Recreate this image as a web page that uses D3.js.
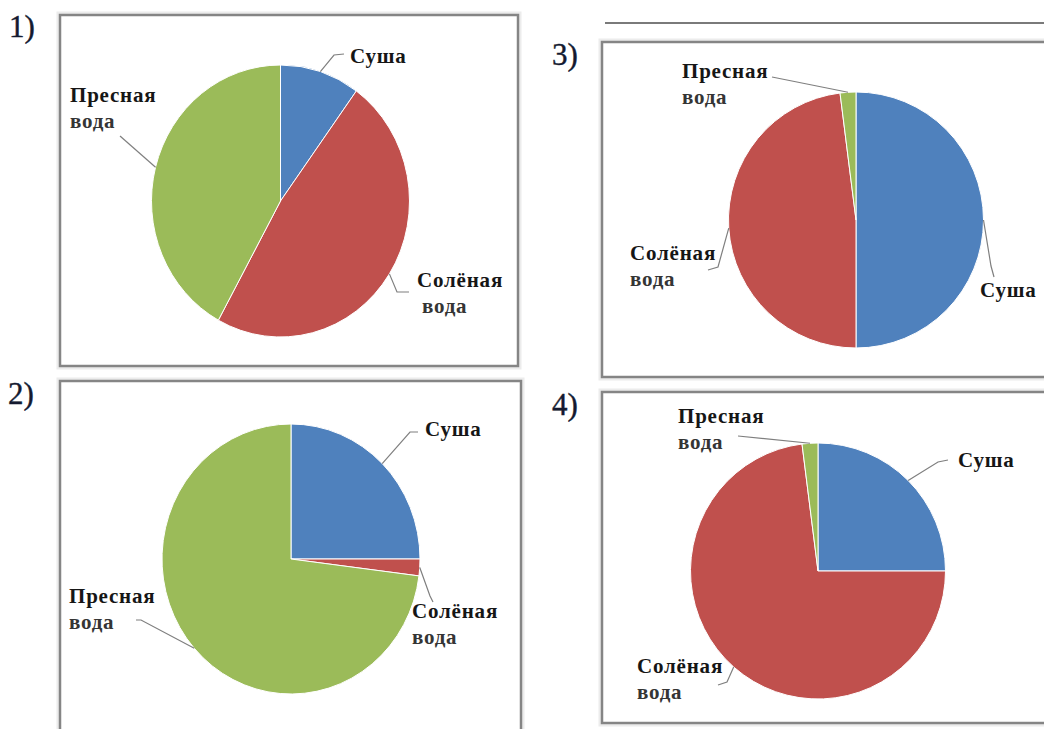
<!DOCTYPE html>
<html lang="ru">
<head>
  <meta charset="UTF-8" />
  <title>Суша и вода</title>
  <style>
    body 
      {
      margin: 0;
      background-color: #ffffff;
      }
    .num 
      {
      font-family: "Liberation Serif", "DejaVu Serif", serif;
      font-size: 31px;
      fill: #141a30;
      stroke: #141a30;
      stroke-width: 0.4;
      }
    .lbl 
      {
      font-family: "Liberation Serif", "DejaVu Serif", serif;
      font-weight: bold;
      font-size: 21px;
      letter-spacing: 0.8px;
      fill: #161616;
      }
    .lbl tspan.second 
      {
      fill: #353535;
      }
  </style>
</head>
<body>
<div id="chart"></div>

<script src="https://cdn.jsdelivr.net/npm/d3@7/dist/d3.min.js"></script>
<script>
// categories in Excel order (clockwise from 12 o'clock)
const categories = ["Суша", "Солёная вода", "Пресная вода"];
const chartNames = ["1)", "2)", "3)", "4)"];

// shares, %, per chart
const chart1 = [10, 48, 42];
const chart2 = [25, 2, 73];
const chart3 = [50, 48, 2];
const chart4 = [25, 73, 2];

const colors = ["#4f81bd", "#c0504d", "#9bbb59"];

// layout for each panel: frame, pie centre / radii, number, label anchors, leader elbows
const layout = [
  {
    frame: [60, 15, 518, 366], cx: 280.5, cy: 201, rx: 129, ry: 136, num: [9, 37],
    labels: [
      { x: 350, y: 63, lead: [[344, 54], [334, 55]] },
      { x: 417, y: 287, x2: 422, lead: [[409, 292], [397, 292]] },
      { x: 70, y: 102, lead: [[120, 136]] }
    ]
  },
  {
    frame: [60, 381, 521, 745], cx: 291, cy: 559, rx: 129, ry: 135, num: [8, 404],
    labels: [
      { x: 425, y: 436, lead: [[418, 432], [410, 432]] },
      { x: 412, y: 618, lead: [[433, 602], [430, 596]] },
      { x: 69, y: 603, lead: [[136, 620], [141, 620]] }
    ]
  },
  {
    frame: [602, 42, 1060, 377], cx: 856, cy: 220, rx: 127.5, ry: 128, num: [552, 65],
    labels: [
      { x: 980, y: 297, lead: [[994, 277], [991, 266]] },
      { x: 630, y: 260, lead: [[708, 270], [718, 267]] },
      { x: 682, y: 78, lead: [[772, 77]] }
    ]
  },
  {
    frame: [602, 392, 1060, 723], cx: 818, cy: 571, rx: 127.5, ry: 128, num: [552, 415],
    labels: [
      { x: 958, y: 467, lead: [[948, 460], [938, 462]] },
      { x: 637, y: 673, lead: [[718, 685], [727, 682]] },
      { x: 678, y: 423, lead: [[738, 436]] }
    ]
  }
];

const allCharts = [chart1, chart2, chart3, chart4];

const W = 1044, H = 729;

const svg = d3.select("#chart")
  .append("svg")
  .attr("width", W)
  .attr("height", H);

// top rule above panel 3
svg.append("line")
  .attr("x1", 605).attr("x2", W)
  .attr("y1", 23).attr("y2", 23)
  .attr("stroke", "#7a7a7a")
  .attr("stroke-width", 2);

const pie = d3.pie().sort(null).value(d => d);

allCharts.forEach((values, i) => {
  const L = layout[i];
  const g = svg.append("g");

  // frame, with a faint halo like the scan
  const [x0, y0, x1, y1] = L.frame;
  g.append("rect")
    .attr("x", x0).attr("y", y0)
    .attr("width", x1 - x0).attr("height", y1 - y0)
    .attr("fill", "none")
    .attr("stroke", "#ececec")
    .attr("stroke-width", 7);
  g.append("rect")
    .attr("x", x0).attr("y", y0)
    .attr("width", x1 - x0).attr("height", y1 - y0)
    .attr("fill", "#ffffff")
    .attr("stroke", "#858585")
    .attr("stroke-width", 2.5);

  g.append("text")
    .attr("class", "num")
    .attr("x", L.num[0])
    .attr("y", L.num[1])
    .text(chartNames[i]);

  const arcs = pie(values);
  const arc = d3.arc().innerRadius(0).outerRadius(L.rx);

  g.append("g")
    .attr("transform", `translate(${L.cx},${L.cy}) scale(1,${L.ry / L.rx})`)
    .selectAll("path")
    .data(arcs)
    .join("path")
    .attr("d", arc)
    .attr("fill", (d, j) => colors[j])
    .attr("stroke", "#ffffff")
    .attr("stroke-width", 1)
    .attr("vector-effect", "non-scaling-stroke");

  // leader lines from label to the middle of each slice's rim
  arcs.forEach((d, j) => {
    const a = (d.startAngle + d.endAngle) / 2;
    const px = L.cx + L.rx * Math.sin(a);
    const py = L.cy - L.ry * Math.cos(a);
    const pts = L.labels[j].lead.concat([[px, py]]);
    g.append("path")
      .attr("d", d3.line()(pts))
      .attr("fill", "none")
      .attr("stroke", "#7f7f7f")
      .attr("stroke-width", 1.2);
  });

  // labels: second word goes on its own line
  categories.forEach((name, j) => {
    const lab = L.labels[j];
    const words = name.split(" ");
    const t = g.append("text")
      .attr("class", "lbl")
      .attr("x", lab.x)
      .attr("y", lab.y);
    t.append("tspan").text(words[0]);
    if (words.length > 1) {
      t.append("tspan")
        .attr("class", "second")
        .attr("x", lab.x2 || lab.x)
        .attr("dy", 26)
        .text(words[1]);
    }
  });
});
</script>
</body>
</html>
